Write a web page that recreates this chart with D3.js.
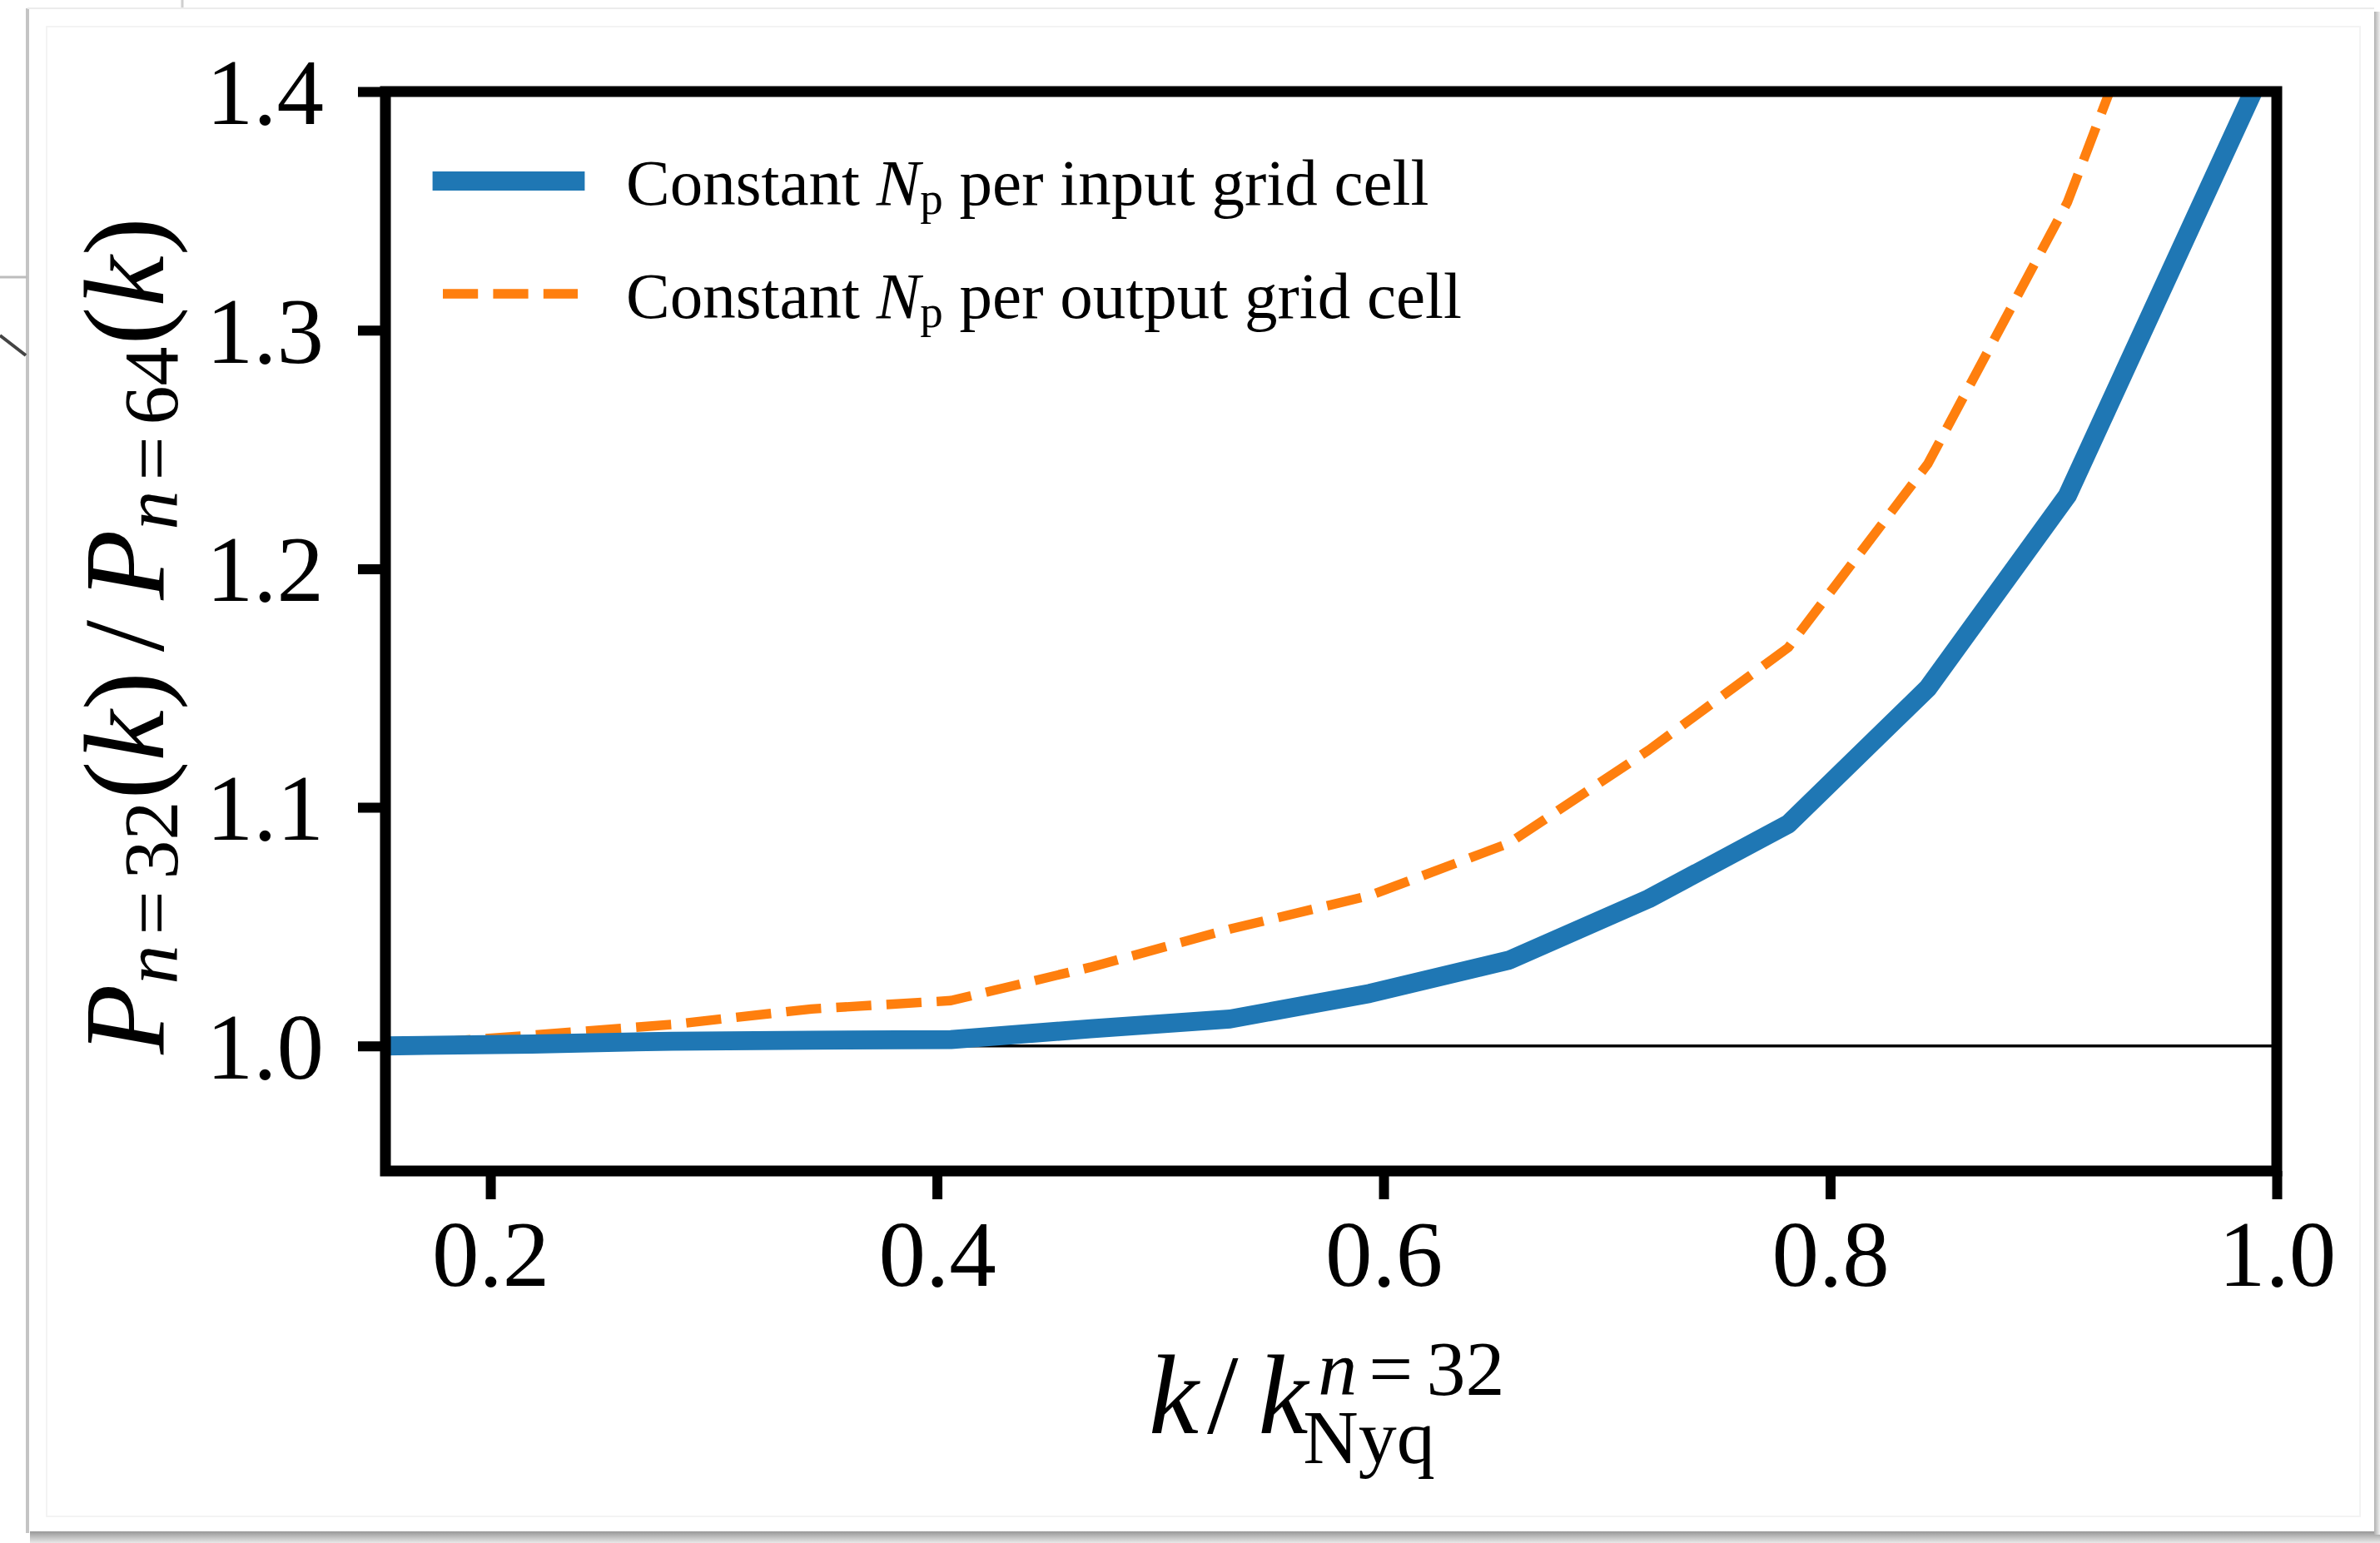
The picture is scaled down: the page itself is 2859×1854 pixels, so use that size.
<!DOCTYPE html>
<html><head><meta charset="utf-8">
<script src="https://cdn.jsdelivr.net/npm/d3@7"></script>
<style>html,body{margin:0;padding:0;background:#fff;} svg{display:block}</style>
</head><body>
<script>
// ---------------- data ----------------
const kValues         = [0.153, 0.21875, 0.28125, 0.34375, 0.40625, 0.46875, 0.53125, 0.59375, 0.65625, 0.71875, 0.78125, 0.84375, 0.90625, 0.96875, 1.03125];
const inputCellRatio  = [1.000, 1.0008, 1.0020, 1.0024, 1.0027, 1.0072, 1.0113, 1.0220, 1.0360, 1.0617, 1.0930, 1.1500, 1.2307, 1.3580, 1.4850];
const outputCellRatio = [1.000, 1.0045, 1.0090, 1.0155, 1.0190, 1.0330, 1.0490, 1.0630, 1.0850, 1.1240, 1.1670, 1.2440, 1.3536, 1.5070, null];
const xTicks = [0.2, 0.4, 0.6, 0.8, 1.0];
const yTicks = [1.0, 1.1, 1.2, 1.3, 1.4];
const seriesNames = ["per input grid cell", "per output grid cell"];
const seriesColors = ["#1f77b4", "#ff7f0e"];

// ---------------- layout ----------------
const W = 2859, H = 1854;
const L = 463, R = 2735, T = 110, B = 1407;
const FONT = "'Liberation Serif', 'Times New Roman', serif";

const svg = d3.select("body").append("svg").attr("width", W).attr("height", H);

// page card / shadow
const defs = svg.append("defs");
const gB = defs.append("linearGradient").attr("id","shB").attr("x1",0).attr("y1",0).attr("x2",0).attr("y2",1);
gB.append("stop").attr("offset","0%").attr("stop-color","#8c8c8c");
gB.append("stop").attr("offset","100%").attr("stop-color","#e8e8e8");
const gR = defs.append("linearGradient").attr("id","shR").attr("x1",0).attr("y1",0).attr("x2",1).attr("y2",0);
gR.append("stop").attr("offset","0%").attr("stop-color","#b0b0b0");
gR.append("stop").attr("offset","100%").attr("stop-color","#f0f0f0");
svg.append("rect").attr("x",0).attr("y",0).attr("width",W).attr("height",H).attr("fill","#fff");
svg.append("rect").attr("x",36).attr("y",1838).attr("width",W-36).attr("height",16).attr("fill","url(#shB)");
svg.append("rect").attr("x",2852).attr("y",14).attr("width",7).attr("height",1830).attr("fill","url(#shR)");
svg.append("rect").attr("x",33).attr("y",10).attr("width",2819).attr("height",1830).attr("fill","#fff");
svg.append("line").attr("x1",33).attr("x2",33).attr("y1",10).attr("y2",1842).attr("stroke","#c4c4c4").attr("stroke-width",4);
svg.append("line").attr("x1",33).attr("x2",2852).attr("y1",10).attr("y2",10).attr("stroke","#ececec").attr("stroke-width",2);
svg.append("rect").attr("x",56).attr("y",32).attr("width",2779).attr("height",1790)
   .attr("fill","none").attr("stroke","#f3f3f3").attr("stroke-width",2);
// background artifacts outside card
svg.append("line").attr("x1",0).attr("x2",33).attr("y1",333).attr("y2",333).attr("stroke","#bdbdbd").attr("stroke-width",3);
svg.append("line").attr("x1",0).attr("x2",31).attr("y1",403).attr("y2",427).attr("stroke","#444").attr("stroke-width",4);
svg.append("line").attr("x1",219).attr("x2",219).attr("y1",0).attr("y2",9).attr("stroke","#cfcfcf").attr("stroke-width",3);

// ---------------- scales ----------------
const x = d3.scaleLinear().domain([0.153, 1.0]).range([L, R]);
const y = d3.scaleLinear().domain([0.9476, 1.4]).range([B, T]);

defs.append("clipPath").attr("id","clipAx").append("rect")
   .attr("x",L).attr("y",T).attr("width",R-L).attr("height",B-T);

// horizontal reference line at 1
svg.append("line").attr("x1",L).attr("x2",R).attr("y1",y(1)).attr("y2",y(1))
   .attr("stroke","#000").attr("stroke-width",3.5);

const plot = svg.append("g").attr("clip-path","url(#clipAx)");
const line = d3.line().defined(d => d.v !== null).x(d => x(d.k)).y(d => y(d.v));
const outData = kValues.map((k,i) => ({k, v: outputCellRatio[i]}));
const inData  = kValues.map((k,i) => ({k, v: inputCellRatio[i]}));
plot.append("path").datum(outData).attr("d", line)
   .attr("fill","none").attr("stroke",seriesColors[1]).attr("stroke-width",11.4)
   .attr("stroke-dasharray","42.2 18.2").attr("stroke-linejoin","round").attr("stroke-linecap","butt");
plot.append("path").datum(inData).attr("d", line)
   .attr("fill","none").attr("stroke",seriesColors[0]).attr("stroke-width",22.8)
   .attr("stroke-linejoin","round").attr("stroke-linecap","square");

// ---------------- axes ----------------
const xAxis = svg.append("g").attr("transform",`translate(0,${B})`)
   .call(d3.axisBottom(x).tickValues(xTicks).tickFormat(d3.format(".1f")).tickSizeInner(34).tickSizeOuter(0));
const yAxis = svg.append("g").attr("transform",`translate(${L},0)`)
   .call(d3.axisLeft(y).tickValues(yTicks).tickFormat(d3.format(".1f")).tickSizeInner(33).tickSizeOuter(0));
[xAxis, yAxis].forEach(a => {
  a.select(".domain").remove();
  a.selectAll(".tick line").attr("stroke","#000").attr("stroke-width",12);
  a.selectAll(".tick text").attr("fill","#000").style("font-family",FONT).style("font-size","113px");
});
xAxis.selectAll(".tick text").attr("y",138).attr("dy","0");
yAxis.selectAll(".tick text").attr("x",-74).attr("dy","0.34em");

// frame
svg.append("rect").attr("x",L).attr("y",T).attr("width",R-L).attr("height",B-T)
   .attr("fill","none").attr("stroke","#000").attr("stroke-width",13);

// ---------------- legend ----------------
const legY = [217.5, 353];
svg.append("line").attr("x1",531).attr("x2",691).attr("y1",legY[0]).attr("y2",legY[0])
   .attr("stroke",seriesColors[0]).attr("stroke-width",22.8).attr("stroke-linecap","square");
svg.append("line").attr("x1",532).attr("x2",694).attr("y1",legY[1]).attr("y2",legY[1])
   .attr("stroke",seriesColors[1]).attr("stroke-width",11.4).attr("stroke-dasharray","42.2 18.2");
seriesNames.forEach((name,i) => {
  const t = svg.append("text").attr("x",752).attr("y",legY[i]+28.5)
     .style("font-family",FONT).style("font-size","79px").attr("fill","#000");
  t.append("tspan").text("Constant ");
  t.append("tspan").style("font-style","italic").text("N");
  t.append("tspan").attr("dy",11).style("font-size","55px").text("p");
  t.append("tspan").attr("dy",-11).text(" " + name);
});

// ---------------- axis titles ----------------
// x label: k / k_Nyq^{n=32}
const xl = svg.append("g").attr("transform","translate(1380,0)");
const xMain = xl.append("text").attr("x",0).attr("y",1722)
   .style("font-family",FONT).style("font-size","135px").attr("fill","#000");
xMain.append("tspan").style("font-style","italic").text("k");
xMain.append("tspan").attr("dx",10).text("/");
xMain.append("tspan").attr("dx",24).style("font-style","italic").text("k");
const wMain = xMain.node().getComputedTextLength() + 34;
const xSup = xl.append("text").attr("x",wMain+12).attr("y",1676)
   .style("font-family",FONT).style("font-size","94px").attr("fill","#000");
xSup.append("tspan").style("font-style","italic").text("n");
xSup.append("tspan").attr("dx",14).text("=");
xSup.append("tspan").attr("dx",16).text("32");
xl.append("text").attr("x",wMain-6).attr("y",1758)
   .style("font-family",FONT).style("font-size","92px").attr("fill","#000").text("Nyq");

// y label: P_{n=32}(k) / P_{n=64}(k)
const yl = svg.append("text").attr("transform","translate(196,764) rotate(-90)")
   .attr("text-anchor","middle").style("font-family",FONT).style("font-size","138px").attr("fill","#000");
function addP(sub, lead){
  yl.append("tspan").attr("dx",lead).style("font-style","italic").text("P");
  yl.append("tspan").attr("dy",17).style("font-size","94px").style("font-style","italic").text("n");
  yl.append("tspan").attr("dx",12).style("font-size","94px").text("=");
  yl.append("tspan").attr("dx",14).style("font-size","94px").text(sub);
  yl.append("tspan").attr("dy",-17).attr("dx",2).text("(");
  yl.append("tspan").style("font-style","italic").text("k");
  yl.append("tspan").text(")");
}
addP("32", 0);
yl.append("tspan").attr("dx",24).text("/");
addP("64", 24);
</script>
</body></html>
